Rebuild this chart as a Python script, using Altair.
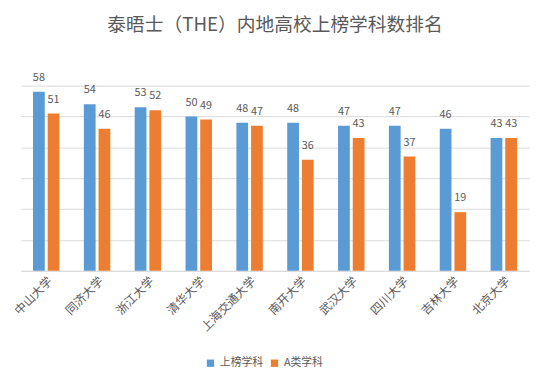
import altair as alt
import pandas as pd

schools = ["中山大学", "同济大学", "浙江大学", "清华大学", "上海交通大学",
           "南开大学", "武汉大学", "四川大学", "吉林大学", "北京大学"]
listed = [58, 54, 53, 50, 48, 48, 47, 47, 46, 43]
a_class = [51, 46, 52, 49, 47, 36, 43, 37, 19, 43]
series = ["上榜学科", "A类学科"]

rows = []
for s, v1, v2 in zip(schools, listed, a_class):
    rows.append({"school": s, "series": series[0], "value": v1})
    rows.append({"school": s, "series": series[1], "value": v2})
df = pd.DataFrame(rows)

FONT = "Noto Sans CJK SC"
TXT = "#595959"

x = alt.X("school:N", sort=schools, title=None,
          scale=alt.Scale(paddingInner=0.48, paddingOuter=0.24),
          axis=alt.Axis(labelAngle=-45, labelAlign="right", labelBaseline="middle",
                        ticks=False, labelPadding=8, labelOffset=4, labelColor=TXT,
                        labelFontSize=12, labelFont=FONT, domainColor="#D9D9D9",
                        grid=False))
xo = alt.XOffset("series:N", sort=series, scale=alt.Scale(paddingInner=0.2))
y = alt.Y("value:Q", title=None, scale=alt.Scale(domain=[0, 60]),
          axis=alt.Axis(values=[0, 10, 20, 30, 40, 50, 60], labels=False, ticks=False,
                        domain=False, gridColor="#D9D9D9"))
color = alt.Color("series:N", sort=series, title=None,
                  scale=alt.Scale(domain=series, range=["#5B9BD5", "#ED7D31"]),
                  legend=alt.Legend(orient="none", legendX=187, legendY=276,
                                    direction="horizontal", symbolType="square",
                                    symbolSize=55, symbolStrokeWidth=0,
                                    labelFontSize=11, labelColor=TXT, labelFont=FONT,
                                    columnPadding=6))

bars = alt.Chart(df).mark_bar().encode(x=x, xOffset=xo, y=y, color=color)
labels = alt.Chart(df).mark_text(baseline="bottom", dy=-9, fontSize=11, color=TXT,
                                 font=FONT).encode(
    x=x, xOffset=xo, y=y, text="value:Q")

chart = alt.layer(bars, labels).properties(
    width=516, height=188,
    autosize=alt.AutoSizeParams(type="none"),
    padding={"left": 13, "top": 76, "right": 15, "bottom": 106},
    title=alt.TitleParams("泰晤士（THE）内地高校上榜学科数排名", fontSize=19,
                          fontWeight="normal", color=TXT, font=FONT, offset=38,
                          anchor="middle"),
).configure_view(stroke=None)

chart.save("out.html", embed_options={"renderer": "svg", "actions": False})
